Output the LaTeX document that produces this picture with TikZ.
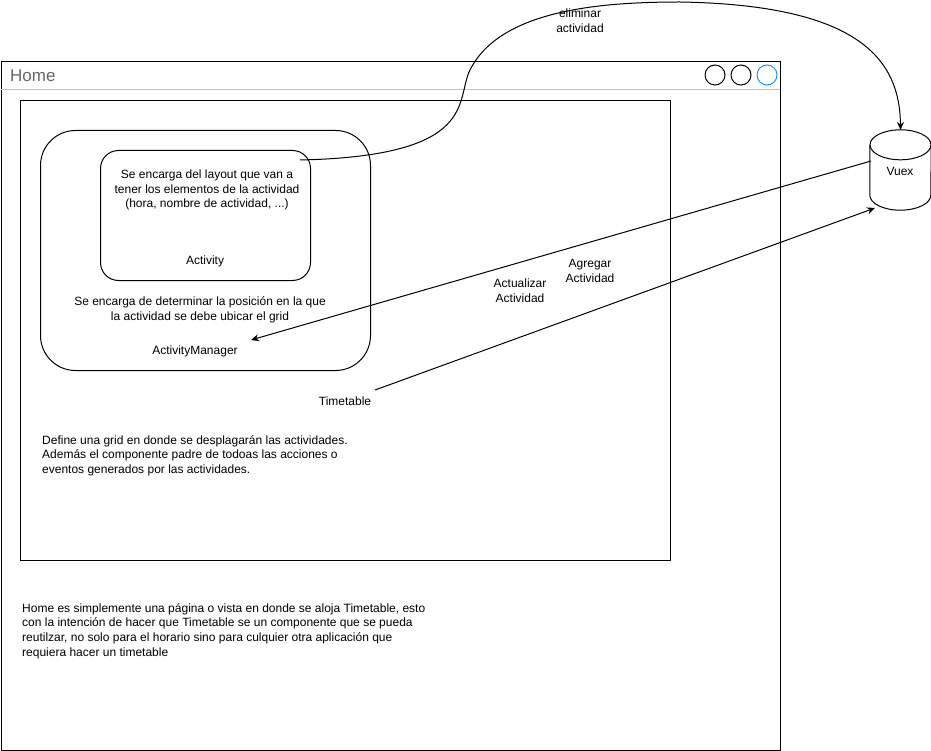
\documentclass[tikz,border=0pt]{standalone}
\usepackage{fontspec}
\setmainfont{Liberation Sans}
\usepackage{xcolor}
\usetikzlibrary{arrows.meta,positioning,calc}
\definecolor{bar}{HTML}{C0C0C0}
\definecolor{title}{HTML}{666666}
\definecolor{btnblue}{HTML}{1E90FF}

\tikzset{
  box/.style={draw, line width=1pt},
  txt/.style={font=\fontsize{12}{14.8}\selectfont, inner sep=0pt, align=center},
  ltxt/.style={txt, align=left, anchor=north west},
  flow/.style={line width=1pt, -{Stealth[length=8pt,width=7pt]}},
  btn/.style={draw, circle, line width=1pt, minimum size=20pt, inner sep=0pt}
}

\begin{document}
\begin{tikzpicture}[x=1pt, y=-1pt]
  \useasboundingbox (0,0) rectangle (931,751);
  % window
  \node[box, minimum width=779pt, minimum height=689pt, anchor=north west] (home) at (0.5,61) {};
  \draw[bar, line width=1pt] (0.5,90) -- (779.5,90);
  \node[anchor=west, inner sep=0pt, text=title, font=\fontsize{17}{19}\selectfont] (hometitle) at (10,76) {Home};
  \node[btn] (b1) at (715,75) {};
  \node[btn, right=5pt of b1] (b2) {};
  \node[btn, draw=btnblue, right=5pt of b2] (b3) {};

  % timetable
  \node[box, minimum width=650pt, minimum height=460pt, anchor=north west] (tt) at (20,100) {};
  \node[box, rounded corners=35pt, minimum width=330pt, minimum height=240pt, anchor=north west] (am) at (40,130) {};
  \node[box, rounded corners=18pt, minimum width=210pt, minimum height=130pt, anchor=north west] (act) at (100,150) {};

  \node[txt] (acttext) at (207,190) {Se encarga del layout que van a\\tener los elementos de la actividad\\(hora, nombre de actividad, ...)};
  \node[txt] (actname) at (205,261) {Activity};
  \node[txt] (amtext) at (200,310) {Se encarga de determinar la posición en la que\\la actividad se debe ubicar el grid};
  \node[txt] (amname) at (195,351) {ActivityManager};
  \node[txt] (ttname) at (345,401) {Timetable};
  \node[ltxt] (tttext) at (42,435) {Define una grid en donde se desplagarán las actividades.\\Además el componente padre de todoas las acciones o\\eventos generados por las actividades.};
  \node[ltxt] (hometext) at (22,603) {Home es simplemente una página o vista en donde se aloja Timetable, esto\\con la intención de hacer que Timetable se un componente que se pueda\\reutilzar, no solo para el horario sino para culquier otra aplicación que\\requiera hacer un timetable};

  % store
  \node[minimum width=61pt, minimum height=80pt, inner sep=0pt] (vuex) at (900.5,170) {};
  \draw[line width=1pt] (vuex.north) ++(0,15) ellipse[x radius=30.5, y radius=15];
  \draw[line width=1pt] ($(vuex.north west)+(0,15)$) -- ($(vuex.south west)+(0,-15)$)
     arc[start angle=180, end angle=0, x radius=30.5, y radius=15]
     -- ($(vuex.north east)+(0,15)$);
  \node[txt] (vuexname) at (900,171) {Vuex};

  \coordinate (actout) at (300,160);
  \coordinate (vuextop) at (900.5,130);
  \coordinate (vuexl) at (871,161);
  \coordinate (vuexbl) at (875,208);
  \coordinate (amin) at (251,340);
  \coordinate (ttout) at (375,390);

  % connectors
  \draw[flow] (actout) .. controls (480,156) and (455,100) .. (470,70)
     .. controls (500,10) and (600,2) .. (680,2)
     .. controls (860,5) and (900,60) .. (vuextop);
  \node[txt] (elim) at (580,21) {eliminar\\actividad};
  \draw[flow] (vuexl) -- (amin);
  \node[txt] (upd) at (520,291) {Actualizar\\Actividad};
  \draw[flow] (ttout) -- (vuexbl);
  \node[txt] (add) at (590,271) {Agregar\\Actividad};
\end{tikzpicture}
\end{document}
